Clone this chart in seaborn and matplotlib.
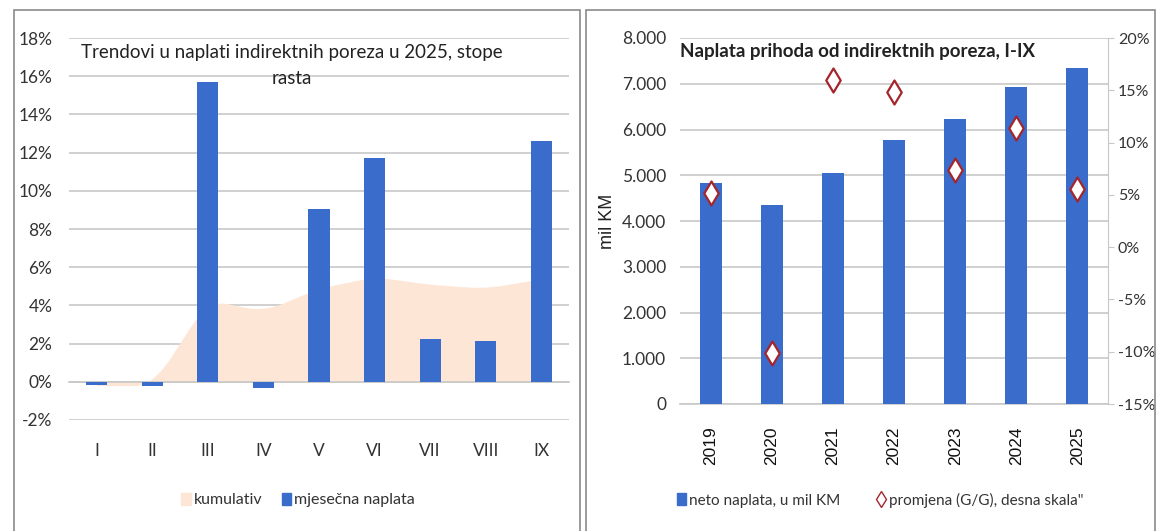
import numpy as np
import pandas as pd
import matplotlib
matplotlib.use('Agg')
import matplotlib.pyplot as plt
from matplotlib.patches import Rectangle, Patch
from matplotlib.lines import Line2D
from matplotlib.ticker import FuncFormatter, FixedLocator
import seaborn as sns

# data
months = ['I', 'II', 'III', 'IV', 'V', 'VI', 'VII', 'VIII', 'IX']
monthly = [-0.18, -0.23, 15.7, -0.3, 9.04, 11.74, 2.25, 2.13, 12.59]
cumulative = [-0.2, -0.2, 4.3, 3.7, 4.9, 5.5, 5.1, 4.9, 5.4]

years = ['2019', '2020', '2021', '2022', '2023', '2024', '2025']
revenue = [4828, 4340, 5043, 5767, 6233, 6935, 7335]
change = [5.15, -10.1, 16.0, 14.8, 7.4, 11.4, 5.6]

BLUE = '#3a6ccc'
PEACH = '#fde6d6'
RED = '#a3262c'
GRID = '#c8c8c8'
TXT = '#333333'

sns.set_style('white')
plt.rcParams['font.family'] = ['Lato', 'DejaVu Sans']

fig = plt.figure(figsize=(11.56, 5.31), dpi=100)

# panel frames
for x0, w in [(14, 566), (586, 569)]:
    fig.patches.append(Rectangle((x0 / 1156, -0.01), w / 1156, 1 - 10 / 531 + 0.01,
                                 transform=fig.transFigure, fill=False,
                                 edgecolor='#8a8a8a', lw=1.2))

# ---- left chart
ax1 = fig.add_axes([69 / 1156, 1 - 420 / 531, 500 / 1156, 382 / 531])
df1 = pd.DataFrame({'mjesec': months, 'mjesecna': monthly, 'kumulativ': cumulative})
# smooth-ish outline for the cumulative area, interpolated for drawing only
xpos = np.arange(len(months))
xs = np.linspace(0, len(months) - 1, 200)
ys = np.interp(xs, xpos, df1['kumulativ'])
ys = np.convolve(np.pad(ys, 8, mode='edge'), np.ones(17) / 17, mode='valid')
ax1.fill_between(xs, 0, ys, color=PEACH, lw=0, zorder=1)
sns.barplot(data=df1, x='mjesec', y='mjesecna', color=BLUE, width=0.38,
            saturation=1, linewidth=0, ax=ax1, zorder=3)
ax1.set_xlim(-0.5, len(months) - 0.5)
ax1.set_ylim(-2, 18)
ax1.set_yticks(range(-2, 19, 2))
ax1.yaxis.set_major_formatter(FuncFormatter(lambda v, p: f'{v:.0f}%'))
ax1.grid(axis='y', color=GRID, lw=1.2, zorder=0)
ax1.set_axisbelow(True)
for s in ['top', 'right', 'left']:
    ax1.spines[s].set_visible(False)
ax1.spines['bottom'].set_position(('data', 0))
ax1.spines['bottom'].set_color(GRID)
ax1.spines['bottom'].set_linewidth(1.2)
ax1.xaxis.set_minor_locator(FixedLocator(np.arange(-0.5, len(months), 1)))
ax1.tick_params(axis='x', which='major', length=0, pad=44, labelsize=12.5, labelcolor=TXT)
ax1.tick_params(axis='x', which='minor', length=6, color=GRID, direction='out')
ax1.tick_params(axis='y', length=0, labelsize=12.5, labelcolor=TXT, pad=12)
ax1.set_xlabel('')
ax1.set_ylabel('')
ax1.text(0.445, 0.985, 'Trendovi u naplati indirektnih poreza u 2025, stope\nrasta',
         transform=ax1.transAxes, ha='center', va='top', fontsize=13.5,
         color='#222222', linespacing=1.65)
fig.legend(handles=[Patch(color=PEACH, label='kumulativ'),
                    Patch(color=BLUE, label='mjesečna naplata')],
           loc='center', bbox_to_anchor=(298 / 1156, 1 - 500 / 531), ncol=2,
           frameon=False, fontsize=11.5, handlelength=0.6, handleheight=0.8,
           handletextpad=0.2, columnspacing=1.2, labelcolor=TXT)

# ---- right chart
ax2 = fig.add_axes([680 / 1156, 1 - 404 / 531, 428 / 1156, 366 / 531])
df2 = pd.DataFrame({'godina': years, 'naplata': revenue, 'promjena': change})
sns.barplot(data=df2, x='godina', y='naplata', color=BLUE, width=0.36,
            saturation=1, linewidth=0, ax=ax2, zorder=3)
ax2.set_xlim(-0.5, len(years) - 0.5)
ax2.set_ylim(0, 8000)
ax2.set_yticks(range(0, 8001, 1000))
ax2.yaxis.set_major_formatter(FuncFormatter(lambda v, p: f'{v:,.0f}'.replace(',', '.')))
ax2.grid(axis='y', color=GRID, lw=1.2, zorder=0)
ax2.set_axisbelow(True)
for s in ['top', 'right', 'left']:
    ax2.spines[s].set_visible(False)
ax2.spines['bottom'].set_color(GRID)
ax2.spines['bottom'].set_linewidth(1.2)
ax2.xaxis.set_minor_locator(FixedLocator(np.arange(-0.5, len(years), 1)))
ax2.tick_params(axis='x', which='major', length=0, pad=16, labelsize=12.5,
                labelrotation=90, labelcolor='#111111')
for lab in ax2.get_xticklabels():
    lab.set_family(['Liberation Sans', 'DejaVu Sans'])
ax2.tick_params(axis='x', which='minor', length=6, color=GRID, direction='out')
ax2.tick_params(axis='y', length=0, labelsize=12.5, labelcolor=TXT, pad=10)
ax2.set_xlabel('')
ax2.set_ylabel('mil KM', fontsize=13, color='#222222', labelpad=4,
                family=['Liberation Sans', 'DejaVu Sans'])
ax2.text(0.0, 0.985, 'Naplata prihoda od indirektnih poreza, I-IX',
         transform=ax2.transAxes, ha='left', va='top', fontsize=13.5,
         fontweight='bold', color='#222222')

ax3 = ax2.twinx()
sns.scatterplot(data=df2, x='godina', y='promjena', marker='d', s=150,
                color='white', edgecolor=RED, linewidth=1.6, ax=ax3, zorder=5)
ax3.set_ylim(-15, 20)
ax3.set_yticks(range(-15, 21, 5))
ax3.yaxis.set_major_formatter(FuncFormatter(lambda v, p: f'{v:.0f}%'))
for s in ['top', 'left', 'bottom']:
    ax3.spines[s].set_visible(False)
ax3.spines['right'].set_color(GRID)
ax3.tick_params(axis='y', length=4, color=GRID, labelsize=11.5, labelcolor=TXT, pad=3)
ax3.set_ylabel('')
ax3.set_xlabel('')

fig.legend(handles=[Patch(color=BLUE, label='neto naplata, u mil KM'),
                    Line2D([], [], marker='d', ls='', markersize=8, markerfacecolor='white',
                           markeredgecolor=RED, markeredgewidth=1,
                           label='promjena (G/G), desna skala"')],
           loc='center', bbox_to_anchor=(880 / 1156, 1 - 500 / 531), ncol=2,
           frameon=False, fontsize=11, handlelength=0.6, handleheight=0.8,
           handletextpad=0.2, columnspacing=2.4, labelcolor=TXT)

fig.savefig('out.png', dpi=100)
